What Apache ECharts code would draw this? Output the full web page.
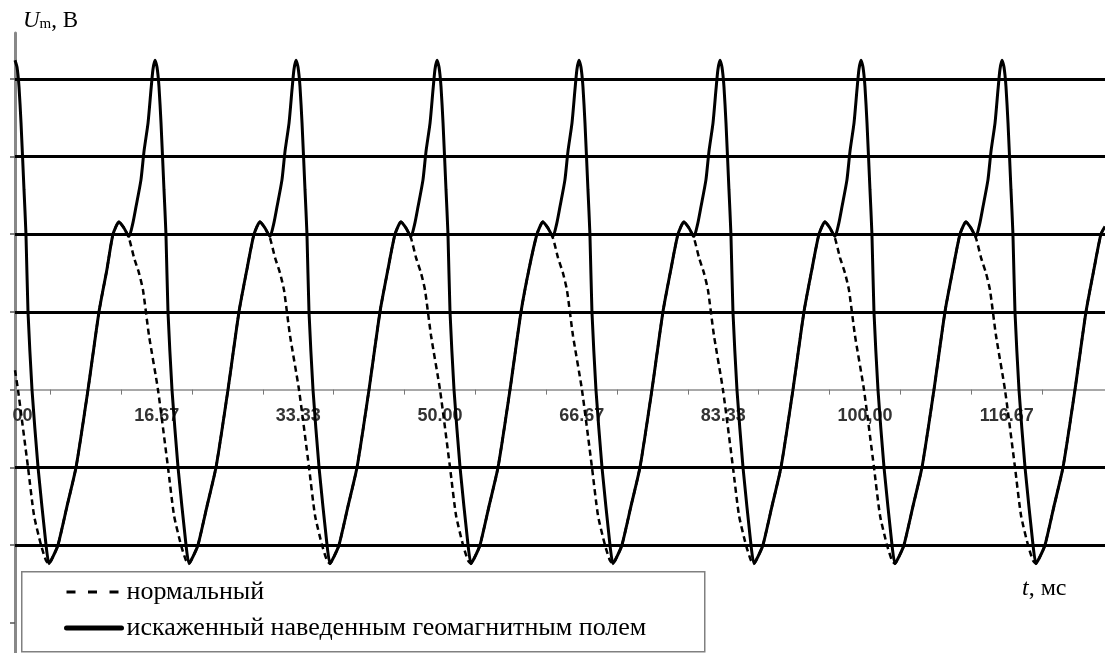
<!DOCTYPE html>
<html><head><meta charset="utf-8">
<script src="https://cdn.jsdelivr.net/npm/echarts@6/dist/echarts.min.js"></script>
<style>html,body{margin:0;padding:0;background:#fff}#c{width:1105px;height:653px}</style>
</head><body><div id="c"></div>
<script>
// ---- data (t in ms, U_m in V) ----
const seriesNames = ['нормальный', 'искаженный наведенным геомагнитным полем'];

const normalPoints = [
[0,0.25],[0.35,0.00],[1.53,-1.00],[2.24,-1.62],[3.06,-2.00],[3.65,-2.20],[4.00,-2.24],[4.47,-2.15],[5.06,-2.00],[6.12,-1.50],[7.18,-1.00],[8.59,0.00],[9.88,1.00],[10.82,1.55],
[11.53,2.00],[12.23,2.16],[12.82,2.08],[13.41,1.95],[14.00,1.70],[14.59,1.50],[15.06,1.28],[15.76,0.70],[16.82,0.00],[18.00,-1.00],[18.71,-1.62],[19.53,-2.00],[20.12,-2.20],[20.47,-2.24],[20.94,-2.15],[21.53,-2.00],[22.59,-1.50],[23.65,-1.00],[25.06,0.00],[26.35,1.00],[27.29,1.55],
[28.12,2.00],[28.82,2.16],[29.41,2.08],[30.00,1.95],[30.59,1.70],[31.18,1.50],[31.65,1.28],[32.35,0.70],[33.41,0.00],[34.59,-1.00],[35.30,-1.62],[36.12,-2.00],[36.71,-2.20],[37.06,-2.24],[37.53,-2.15],[38.12,-2.00],[39.18,-1.50],[40.24,-1.00],[41.65,0.00],[42.94,1.00],[43.88,1.55],
[44.71,2.00],[45.41,2.16],[46.00,2.08],[46.59,1.95],[47.18,1.70],[47.77,1.50],[48.24,1.28],[48.94,0.70],[50.00,0.00],[51.18,-1.00],[51.89,-1.62],[52.71,-2.00],[53.30,-2.20],[53.65,-2.24],[54.12,-2.15],[54.71,-2.00],[55.77,-1.50],[56.83,-1.00],[58.24,0.00],[59.53,1.00],[60.47,1.55],
[61.41,2.00],[62.11,2.16],[62.70,2.08],[63.29,1.95],[63.88,1.70],[64.47,1.50],[64.94,1.28],[65.64,0.70],[66.70,0.00],[67.88,-1.00],[68.59,-1.62],[69.41,-2.00],[70.00,-2.20],[70.35,-2.24],[70.82,-2.15],[71.41,-2.00],[72.47,-1.50],[73.53,-1.00],[74.94,0.00],[76.23,1.00],[77.17,1.55],
[78.00,2.00],[78.70,2.16],[79.29,2.08],[79.88,1.95],[80.47,1.70],[81.06,1.50],[81.53,1.28],[82.23,0.70],[83.29,0.00],[84.47,-1.00],[85.18,-1.62],[86.00,-2.00],[86.59,-2.20],[86.94,-2.24],[87.41,-2.15],[88.00,-2.00],[89.06,-1.50],[90.12,-1.00],[91.53,0.00],[92.82,1.00],[93.76,1.55],
[94.59,2.00],[95.29,2.16],[95.88,2.08],[96.47,1.95],[97.06,1.70],[97.65,1.50],[98.12,1.28],[98.82,0.70],[99.88,0.00],[101.06,-1.00],[101.77,-1.62],[102.59,-2.00],[103.18,-2.20],[103.53,-2.24],[104.00,-2.15],[104.59,-2.00],[105.65,-1.50],[106.71,-1.00],[108.12,0.00],[109.41,1.00],[110.35,1.55],
[111.18,2.00],[111.88,2.16],[112.47,2.08],[113.06,1.95],[113.65,1.70],[114.24,1.50],[114.71,1.28],[115.41,0.70],[116.47,0.00],[117.65,-1.00],[118.36,-1.62],[119.18,-2.00],[119.77,-2.20],[120.12,-2.24],[120.59,-2.15],[121.18,-2.00],[122.24,-1.50],[123.30,-1.00],[124.71,0.00],[126.00,1.00],[126.94,1.55],[127.76,2.00],[128.24,2.10]
];

const distortedPoints = [
[0,4.24],[0.24,4.15],[0.47,3.90],[0.71,3.43],[1.06,2.57],[1.29,2.00],[1.53,1.00],[2.00,0.00],[2.71,-1.00],[3.65,-2.00],[4.00,-2.24],[4.47,-2.15],[5.06,-2.00],[6.12,-1.50],[7.18,-1.00],[8.59,0.00],[9.88,1.00],[10.82,1.55],
[11.53,2.00],[12.23,2.16],[12.82,2.08],[13.41,1.97],[13.88,2.15],[14.23,2.35],[14.82,2.70],[15.18,3.07],[15.65,3.43],[16.00,3.86],[16.23,4.12],[16.47,4.24],[16.71,4.15],[16.94,3.90],[17.18,3.43],[17.53,2.57],[17.76,2.00],[18.00,1.00],[18.47,0.00],[19.18,-1.00],[20.12,-2.00],[20.47,-2.24],[20.94,-2.15],[21.53,-2.00],[22.59,-1.50],[23.65,-1.00],[25.06,0.00],[26.35,1.00],[27.29,1.55],
[28.12,2.00],[28.82,2.16],[29.41,2.08],[30.00,1.97],[30.47,2.15],[30.82,2.35],[31.41,2.70],[31.77,3.07],[32.24,3.43],[32.59,3.86],[32.82,4.12],[33.06,4.24],[33.30,4.15],[33.53,3.90],[33.77,3.43],[34.12,2.57],[34.35,2.00],[34.59,1.00],[35.06,0.00],[35.77,-1.00],[36.71,-2.00],[37.06,-2.24],[37.53,-2.15],[38.12,-2.00],[39.18,-1.50],[40.24,-1.00],[41.65,0.00],[42.94,1.00],[43.88,1.55],
[44.71,2.00],[45.41,2.16],[46.00,2.08],[46.59,1.97],[47.06,2.15],[47.41,2.35],[48.00,2.70],[48.36,3.07],[48.83,3.43],[49.18,3.86],[49.41,4.12],[49.65,4.24],[49.89,4.15],[50.12,3.90],[50.36,3.43],[50.71,2.57],[50.94,2.00],[51.18,1.00],[51.65,0.00],[52.36,-1.00],[53.30,-2.00],[53.65,-2.24],[54.12,-2.15],[54.71,-2.00],[55.77,-1.50],[56.83,-1.00],[58.24,0.00],[59.53,1.00],[60.47,1.55],
[61.41,2.00],[62.11,2.16],[62.70,2.08],[63.29,1.97],[63.76,2.15],[64.11,2.35],[64.70,2.70],[65.06,3.07],[65.53,3.43],[65.88,3.86],[66.11,4.12],[66.35,4.24],[66.59,4.15],[66.82,3.90],[67.06,3.43],[67.41,2.57],[67.64,2.00],[67.88,1.00],[68.35,0.00],[69.06,-1.00],[70.00,-2.00],[70.35,-2.24],[70.82,-2.15],[71.41,-2.00],[72.47,-1.50],[73.53,-1.00],[74.94,0.00],[76.23,1.00],[77.17,1.55],
[78.00,2.00],[78.70,2.16],[79.29,2.08],[79.88,1.97],[80.35,2.15],[80.70,2.35],[81.29,2.70],[81.65,3.07],[82.12,3.43],[82.47,3.86],[82.70,4.12],[82.94,4.24],[83.18,4.15],[83.41,3.90],[83.65,3.43],[84.00,2.57],[84.23,2.00],[84.47,1.00],[84.94,0.00],[85.65,-1.00],[86.59,-2.00],[86.94,-2.24],[87.41,-2.15],[88.00,-2.00],[89.06,-1.50],[90.12,-1.00],[91.53,0.00],[92.82,1.00],[93.76,1.55],
[94.59,2.00],[95.29,2.16],[95.88,2.08],[96.47,1.97],[96.94,2.15],[97.29,2.35],[97.88,2.70],[98.24,3.07],[98.71,3.43],[99.06,3.86],[99.29,4.12],[99.53,4.24],[99.77,4.15],[100.00,3.90],[100.24,3.43],[100.59,2.57],[100.82,2.00],[101.06,1.00],[101.53,0.00],[102.24,-1.00],[103.18,-2.00],[103.53,-2.24],[104.00,-2.15],[104.59,-2.00],[105.65,-1.50],[106.71,-1.00],[108.12,0.00],[109.41,1.00],[110.35,1.55],
[111.18,2.00],[111.88,2.16],[112.47,2.08],[113.06,1.97],[113.53,2.15],[113.88,2.35],[114.47,2.70],[114.83,3.07],[115.30,3.43],[115.65,3.86],[115.88,4.12],[116.12,4.24],[116.36,4.15],[116.59,3.90],[116.83,3.43],[117.18,2.57],[117.41,2.00],[117.65,1.00],[118.12,0.00],[118.83,-1.00],[119.77,-2.00],[120.12,-2.24],[120.59,-2.15],[121.18,-2.00],[122.24,-1.50],[123.30,-1.00],[124.71,0.00],[126.00,1.00],[126.94,1.55],[127.76,2.00],[128.24,2.10]
];

const xLabelValues = [0, 16.67, 33.33, 50, 66.67, 83.33, 100, 116.67];
const xLabelTexts = ['0.00', '16.67', '33.33', '50.00', '66.67', '83.33', '100,00', '116.67'];
const xTickValues = [4.17, 12.5, 20.83, 29.17, 37.5, 45.83, 54.17, 62.5, 70.83, 79.17, 87.5, 95.83, 104.17, 112.5, 120.83];
const yTickValues = [-3, -2, -1, 0, 1, 2, 3, 4];
const gridLevels = [-2, -1, 1, 2, 3, 4];
const yMin = -3.39, yMax = 4.59;

const serif = "'Liberation Serif', 'Times New Roman', serif";
const sans = "'Liberation Sans', Arial, sans-serif";

const gridTop = 33, gridHeight = 620;
// distance from grid bottom up to the zero line, via the y scale
const zeroOffset = gridHeight * (0 - yMin) / (yMax - yMin);

const chart = echarts.init(document.getElementById('c'), null, {renderer: 'canvas'});
chart.setOption({
  animation: false,
  backgroundColor: '#fff',
  grid: {left: 15, right: 0, top: gridTop, height: gridHeight, containLabel: false, outerBoundsMode: 'none'},
  xAxis: {
    type: 'value', min: 0, max: 128.24, position: 'bottom', offset: -zeroOffset,
    splitLine: {show: false},
    axisLine: {show: true, onZero: false, lineStyle: {color: '#8c8c8c', width: 1.5}},
    axisTick: {show: true, customValues: xTickValues, length: 5, lineStyle: {color: '#777', width: 1}},
    axisLabel: {
      customValues: xLabelValues, margin: 17,
      fontFamily: sans, fontSize: 18, fontWeight: 'bold', color: '#333',
      formatter: function (v) {
        for (let i = 0; i < xLabelValues.length; i++) {
          if (Math.abs(xLabelValues[i] - v) < 0.01) return xLabelTexts[i];
        }
        return '';
      }
    }
  },
  yAxis: {
    type: 'value', min: yMin, max: yMax,
    splitLine: {show: false},
    axisLine: {show: true, onZero: false, lineStyle: {color: '#888', width: 3}},
    axisTick: {show: true, customValues: yTickValues, length: 5, lineStyle: {color: '#555', width: 1.5}},
    axisLabel: {show: false},
    name: '{i|U}{s|m}{n|, В}',
    nameLocation: 'end', nameGap: 1,
    nameTextStyle: {
      align: 'left', verticalAlign: 'bottom', padding: [0, 0, 0, 8],
      rich: {
        i: {fontFamily: serif, fontStyle: 'italic', fontSize: 23, lineHeight: 23, color: '#000'},
        s: {fontFamily: serif, fontSize: 15, lineHeight: 15, verticalAlign: 'bottom', color: '#000'},
        n: {fontFamily: serif, fontSize: 23, lineHeight: 23, color: '#000'}
      }
    }
  },
  legend: {
    orient: 'vertical', left: 64, top: 578, padding: 0,
    itemWidth: 55, itemHeight: 14, itemGap: 8, selectedMode: false,
    textStyle: {fontFamily: serif, fontSize: 26, lineHeight: 28, color: '#000'},
    data: [
      {name: seriesNames[0], itemStyle: {opacity: 0}, lineStyle: {type: [9, 12.5], width: 3, color: '#000'}},
      {name: seriesNames[1], itemStyle: {opacity: 0}, lineStyle: {type: 'solid', width: 5, color: '#000', cap: 'round'}}
    ],
    z: 5
  },
  graphic: [
    {type: 'rect', left: 21, top: 571, z: 3, shape: {width: 683, height: 80},
     style: {fill: '#fff', stroke: '#808080', lineWidth: 1.5}},
    {type: 'rect', left: 0, top: 397, z: 10, shape: {width: 13, height: 30}, style: {fill: '#fff'}},
    {type: 'text', left: 1022, top: 577, z: 10,
     style: {text: '{i|t}{n|, мс}',
       rich: {i: {fontFamily: serif, fontStyle: 'italic', fontSize: 24, lineHeight: 26, fill: '#000'},
              n: {fontFamily: serif, fontSize: 24, lineHeight: 26, fill: '#000'}}}}
  ],
  series: [
    {
      name: seriesNames[0], type: 'line', data: normalPoints, symbol: 'none', smooth: 0.2,
      color: '#000',
      lineStyle: {color: '#000', width: 2.5, type: [6, 4]}, z: 2
    },
    {
      name: seriesNames[1], type: 'line', data: distortedPoints, symbol: 'none', smooth: 0.2,
      color: '#000',
      lineStyle: {color: '#000', width: 3, type: 'solid'}, z: 3,
      markLine: {
        silent: true, symbol: ['none', 'none'], label: {show: false},
        lineStyle: {color: '#000', width: 3, type: 'solid'},
        data: gridLevels.map(v => ({yAxis: v}))
      }
    }
  ]
});
</script></body></html>
